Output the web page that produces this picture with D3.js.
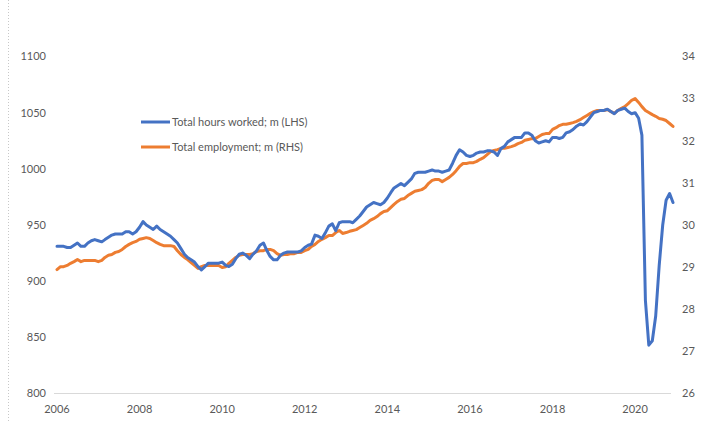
<!DOCTYPE html>
<html>
<head>
<meta charset="utf-8">
<script src="https://cdn.jsdelivr.net/npm/d3@7"></script>
<style>
  body { margin: 0; background: #fff; }
  svg text { font-family: Lato, "Open Sans", sans-serif; fill: #595959; }
</style>
</head>
<body>
<svg id="chart" width="710" height="423"></svg>
<script>
// monthly series, Jan 2006 .. Dec 2020
var startMonth = new Date(2006, 0, 1);
var endMonth = new Date(2021, 0, 1);

// Total hours worked; m (LHS)
var hoursWorked = [
    931, 931, 931, 930, 930, 932, 934, 931, 931, 934, 936, 937,
    936, 935, 937, 939, 941, 942, 942, 942, 944, 944, 942, 944,
    948, 953, 950, 948, 946, 949, 946, 944, 942, 940, 937, 934,
    929, 924, 921, 919, 917, 913, 910, 913, 916, 916, 916, 916,
    917, 914, 913, 915, 920, 924, 925, 923, 920, 924, 927, 932,
    934, 927, 922, 919, 919, 923, 925, 926, 926, 926, 926, 927,
    930, 932, 933, 941, 940, 938, 943, 949, 951, 945, 952, 953,
    953, 953, 952, 955, 958, 962, 966, 968, 970, 969, 968, 970,
    974, 979, 983, 985, 987, 985, 988, 991, 996, 997, 997, 997,
    998, 999, 998, 998, 997, 998, 999, 1005, 1012, 1017, 1015, 1012,
    1011, 1012, 1014, 1015, 1015, 1016, 1016, 1015, 1012, 1018, 1020, 1024,
    1026, 1028, 1028, 1028, 1032, 1032, 1030, 1025, 1023, 1024, 1025, 1024,
    1028, 1028, 1027, 1028, 1032, 1033, 1035, 1038, 1040, 1039, 1042, 1046,
    1050, 1051, 1052, 1052, 1053, 1051, 1049, 1052, 1053, 1054, 1051, 1049,
    1050, 1045, 1030, 883, 843, 847, 869, 914, 950, 972, 978, 970
];

// Total employment; m (RHS)
var employment = [
    28.94, 29.01, 29.01, 29.04, 29.09, 29.13, 29.18, 29.13, 29.16, 29.16, 29.16, 29.16,
    29.13, 29.16, 29.23, 29.28, 29.30, 29.35, 29.37, 29.42, 29.49, 29.54, 29.58, 29.61,
    29.66, 29.68, 29.70, 29.68, 29.63, 29.58, 29.54, 29.51, 29.51, 29.51, 29.49, 29.39,
    29.30, 29.23, 29.18, 29.11, 29.04, 28.97, 29.01, 29.04, 29.04, 29.04, 29.04, 29.04,
    28.99, 29.01, 29.09, 29.16, 29.23, 29.28, 29.30, 29.30, 29.30, 29.32, 29.37, 29.39,
    29.39, 29.42, 29.42, 29.39, 29.32, 29.28, 29.30, 29.30, 29.32, 29.32, 29.35, 29.35,
    29.39, 29.42, 29.49, 29.54, 29.61, 29.66, 29.70, 29.75, 29.75, 29.82, 29.87, 29.80,
    29.82, 29.85, 29.87, 29.89, 29.94, 29.99, 30.04, 30.11, 30.15, 30.20, 30.27, 30.32,
    30.34, 30.42, 30.49, 30.56, 30.61, 30.63, 30.70, 30.75, 30.80, 30.82, 30.84, 30.89,
    30.99, 31.06, 31.08, 31.08, 31.03, 31.08, 31.13, 31.20, 31.29, 31.39, 31.46, 31.46,
    31.48, 31.48, 31.51, 31.56, 31.60, 31.67, 31.74, 31.77, 31.79, 31.82, 31.82, 31.84,
    31.86, 31.89, 31.93, 31.96, 32.01, 32.03, 32.05, 32.05, 32.10, 32.15, 32.17, 32.17,
    32.27, 32.31, 32.36, 32.39, 32.39, 32.41, 32.43, 32.46, 32.50, 32.55, 32.60, 32.65,
    32.69, 32.72, 32.72, 32.72, 32.74, 32.69, 32.65, 32.72, 32.77, 32.81, 32.88, 32.96,
    33.00, 32.91, 32.81, 32.72, 32.67, 32.62, 32.58, 32.53, 32.51, 32.48, 32.41, 32.34
];

var leftTicks = [800, 850, 900, 950, 1000, 1050, 1100];
var rightTicks = [26, 27, 28, 29, 30, 31, 32, 33, 34];
var yearTicks = [2006, 2008, 2010, 2012, 2014, 2016, 2018, 2020];

var seriesNames = ["Total hours worked; m (LHS)", "Total employment; m (RHS)"];
var colors = ["#4472C4", "#ED7D31"];

var months = d3.timeMonth.range(startMonth, endMonth);

var svg = d3.select("#chart");

// dotted chart border on the left
svg.append("line")
    .attr("x1", 8.5).attr("x2", 8.5)
    .attr("y1", 0).attr("y2", 423)
    .attr("stroke", "#c8c8c8")
    .attr("stroke-dasharray", "1,2");

var x = d3.scaleTime()
    .domain([startMonth, endMonth])
    .range([57, 676.5]);

var yLeft = d3.scaleLinear()
    .domain([800, 1100])
    .range([393.5, 56.5]);

var yRight = d3.scaleLinear()
    .domain([26, 34])
    .range([393.5, 56.5]);

// x axis line
svg.append("line")
    .attr("x1", 54).attr("x2", 671)
    .attr("y1", 393.5).attr("y2", 393.5)
    .attr("stroke", "#d9d9d9")
    .attr("stroke-width", 1);

// left axis labels
svg.append("g")
    .selectAll("text")
    .data(leftTicks)
    .enter().append("text")
    .attr("x", 46)
    .attr("y", function (d) { return yLeft(d); })
    .attr("dy", "0.35em")
    .attr("text-anchor", "end")
    .style("font-size", "11px")
    .text(function (d) { return d; });

// right axis labels
svg.append("g")
    .selectAll("text")
    .data(rightTicks)
    .enter().append("text")
    .attr("x", 682)
    .attr("y", function (d) { return yRight(d); })
    .attr("dy", "0.35em")
    .attr("text-anchor", "start")
    .style("font-size", "11px")
    .text(function (d) { return d; });

// year labels
svg.append("g")
    .selectAll("text")
    .data(yearTicks)
    .enter().append("text")
    .attr("x", function (d) { return x(new Date(d, 0, 1)); })
    .attr("y", 409)
    .attr("dy", "0.35em")
    .attr("text-anchor", "middle")
    .style("font-size", "11px")
    .text(function (d) { return d; });

var lineLeft = d3.line()
    .x(function (d, i) { return x(months[i]); })
    .y(function (d) { return yLeft(d); });

var lineRight = d3.line()
    .x(function (d, i) { return x(months[i]); })
    .y(function (d) { return yRight(d); });

svg.append("path")
    .datum(employment)
    .attr("fill", "none")
    .attr("stroke", colors[1])
    .attr("stroke-width", 3)
    .attr("stroke-linejoin", "round")
    .attr("stroke-linecap", "round")
    .attr("d", lineRight);

svg.append("path")
    .datum(hoursWorked)
    .attr("fill", "none")
    .attr("stroke", colors[0])
    .attr("stroke-width", 3)
    .attr("stroke-linejoin", "round")
    .attr("stroke-linecap", "round")
    .attr("d", lineLeft);

// legend
var legend = svg.append("g");
seriesNames.forEach(function (name, i) {
    var ly = 122 + i * 25;
    legend.append("line")
        .attr("x1", 141).attr("x2", 170)
        .attr("y1", ly).attr("y2", ly)
        .attr("stroke", colors[i])
        .attr("stroke-width", 3);
    legend.append("text")
        .attr("x", 172)
        .attr("y", ly)
        .attr("dy", "0.35em")
        .style("font-size", "11px")
        .text(name);
});
</script>
</body>
</html>
